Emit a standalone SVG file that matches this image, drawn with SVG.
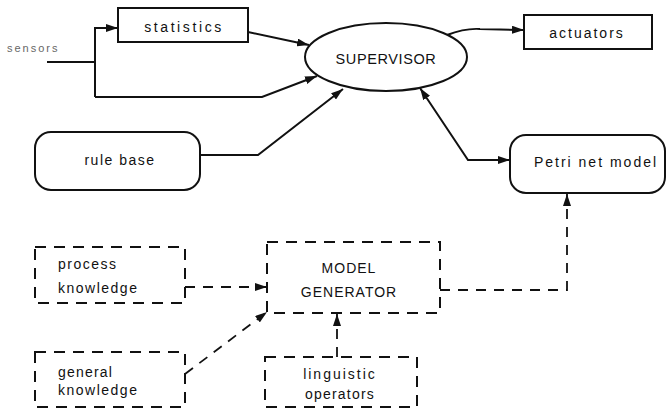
<svg xmlns="http://www.w3.org/2000/svg" width="667" height="417" viewBox="0 0 667 417">
<defs>
<marker id="ah" viewBox="0 0 12 8" refX="12" refY="4" markerWidth="12" markerHeight="8" markerUnits="userSpaceOnUse" orient="auto-start-reverse">
<path d="M0,0 L12,4 L0,8 Z" fill="#111"/>
</marker>
</defs>
<style>
.box{fill:#fff;stroke:#111;stroke-width:2}
.dbox{fill:none;stroke:#111;stroke-width:2;stroke-dasharray:11 8}
.ln{fill:none;stroke:#111;stroke-width:2}
.dl{fill:none;stroke:#111;stroke-width:1.8;stroke-dasharray:10 8}
text{font-family:"Liberation Sans",Arial,sans-serif;font-size:14px;fill:#111;text-anchor:middle;letter-spacing:1.5px}
.l{text-anchor:start}
</style>
<rect width="667" height="417" fill="#fff"/>
<g id="connectors">
<path class="ln" d="M47,62 H95"/>
<path class="ln" d="M95,97 V28 H118" marker-end="url(#ah)"/>
<path class="ln" d="M95,97 H262 L317,76" marker-end="url(#ah)"/>
<path class="ln" d="M248,32 L309,45" marker-end="url(#ah)"/>
<path class="ln" d="M447,35 Q465,28 480,29 L524,30" marker-end="url(#ah)"/>
<path class="ln" d="M200,155 H258 L343,89" marker-end="url(#ah)"/>
<path class="ln" d="M420,88 L468,160 H510" marker-start="url(#ah)" marker-end="url(#ah)"/>
<path class="dl" d="M185,287 H267" marker-end="url(#ah)"/>
<path class="dl" d="M185,374 L267,312" marker-end="url(#ah)"/>
<path class="dl" d="M337,357 V314" marker-end="url(#ah)"/>
<path class="dl" d="M440,290 H567 V194" marker-end="url(#ah)"/>
</g>
<g id="sensors"><text x="7" y="52" class="l" style="font-size:11px;fill:#666;letter-spacing:2px">sensors</text></g>
<g id="statistics"><rect class="box" x="118" y="8" width="130" height="34"/><text x="184" y="32" style="letter-spacing:2.6px">statistics</text></g>
<g id="supervisor"><ellipse class="box" cx="386" cy="57" rx="81" ry="34"/><text x="386" y="64" style="font-size:14.5px;letter-spacing:0.6px">SUPERVISOR</text></g>
<g id="actuators"><rect class="box" x="524" y="15" width="128" height="34"/><text x="587" y="38" style="letter-spacing:2px">actuators</text></g>
<g id="rulebase"><rect class="box" x="35" y="132" width="165" height="58" rx="16"/><text x="120" y="165">rule base</text></g>
<g id="petri"><rect class="box" x="510" y="135" width="155" height="58" rx="16"/><text x="596" y="167" style="letter-spacing:2px">Petri net model</text></g>
<g id="process"><rect class="dbox" x="35" y="247" width="150" height="56"/><text x="58" y="269" class="l">process</text><text x="58" y="293" class="l">knowledge</text></g>
<g id="modelgen"><rect class="dbox" x="267" y="242" width="173" height="71"/><text x="349" y="273" style="letter-spacing:1px">MODEL</text><text x="349" y="297" style="letter-spacing:1px">GENERATOR</text></g>
<g id="general"><rect class="dbox" x="35" y="352" width="150" height="55"/><text x="58" y="377" class="l" style="letter-spacing:1.2px">general</text><text x="58" y="395" class="l">knowledge</text></g>
<g id="linguistic"><rect class="dbox" x="265" y="357" width="152" height="50"/><text x="340" y="379" style="letter-spacing:2px">linguistic</text><text x="340" y="399" style="letter-spacing:1.2px">operators</text></g>
</svg>
